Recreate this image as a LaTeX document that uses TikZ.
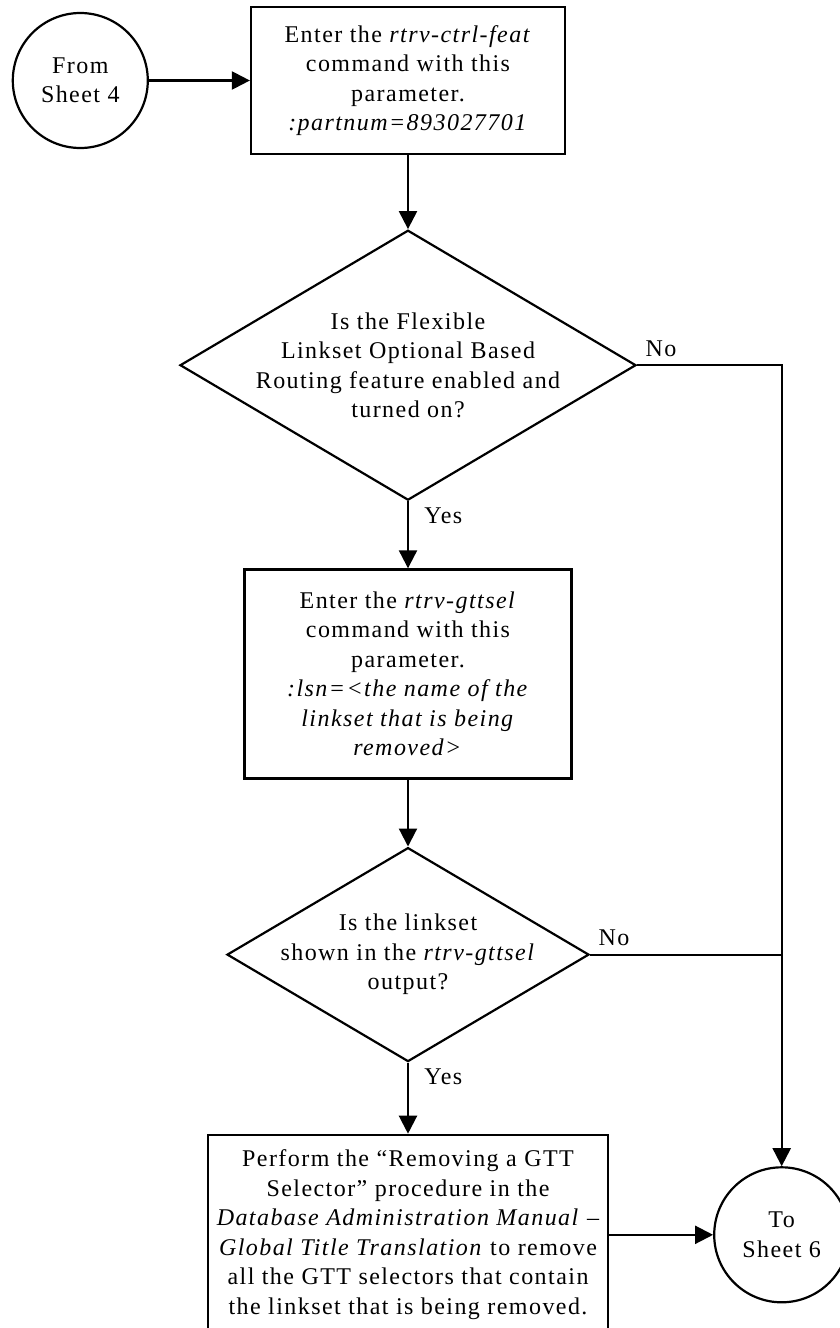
\documentclass[tikz,border=0pt]{standalone}
\usepackage{fontspec}
\setmainfont{Liberation Serif}[LetterSpace=6]
\usetikzlibrary{shapes.geometric, arrows.meta, positioning, calc}

\begin{document}
\begin{tikzpicture}[
    node distance=33.5pt and 50.5pt, % vertical and horizontal distances
    >={Triangle[length=9pt,width=9pt]},
    font=\fontsize{12pt}{14.75pt}\selectfont,
    block/.style={rectangle, draw, line width=1.1pt, align=center, inner sep=0pt},
    decision/.style={diamond, draw, line width=1.1pt, inner sep=0pt},
    connector/.style={circle, draw, line width=1.1pt, align=center, inner sep=0pt, minimum size=67.5pt},
    answer/.style={inner sep=0pt},
    line/.style={draw, ->, line width=1.1pt},
    plainline/.style={draw, line width=1.1pt}
]
    \useasboundingbox (0,0) rectangle (420pt,-664pt);

    % Define nodes in a vertical stack
    \node[block, minimum width=157pt, minimum height=73.5pt] (ctrlfeat) at (204pt,-40.25pt)
        {Enter the \textit{rtrv-ctrl-feat}\\command with this\\parameter.\\\textit{:partnum=893027701}};
    \node[connector, left=of ctrlfeat] (fromsheet) {From\\Sheet 4};

    \node[decision, below=37pt of ctrlfeat, minimum width=228pt, minimum height=135pt,
        label={[align=center]center:{Is the Flexible\\Linkset Optional Based\\Routing feature enabled and\\turned on?}}] (flexcheck) {};

    \node[block, below=of flexcheck, minimum width=163.5pt, minimum height=104.5pt] (gttsel)
        {Enter the \textit{rtrv-gttsel}\\command with this\\parameter.\\\textit{:lsn=<the name of the}\\\textit{linkset that is being}\\\textit{removed>}};

    \node[decision, below=of gttsel, minimum width=181pt, minimum height=107pt,
        label={[align=center]center:{Is the linkset\\shown in the \textit{rtrv-gttsel}\\output?}}] (lscheck) {};

    \node[block, below=35.5pt of lscheck, minimum width=200pt, minimum height=100pt] (removesel)
        {Perform the “Removing a GTT\\Selector” procedure in the\\\textit{Database Administration Manual} –\\\textit{Global Title Translation} to remove\\all the GTT selectors that contain\\the linkset that is being removed.};

    % Off-page connector to the right of the last step
    \node[connector, right=52pt of removesel] (tosheet) {To\\Sheet 6};

    % Answer labels
    \node[answer, anchor=south west] (flexno) at ([xshift=4pt,yshift=4pt]flexcheck.east) {No};
    \node[answer, anchor=north west] (flexyes) at ([xshift=8pt,yshift=-3pt]flexcheck.south) {Yes};
    \node[answer, anchor=south west] (lsno) at ([xshift=4pt,yshift=4pt]lscheck.east) {No};
    \node[answer, anchor=north west] (lsyes) at ([xshift=8pt,yshift=-3pt]lscheck.south) {Yes};

    % Draw arrows
    \path[line] (fromsheet) -- (ctrlfeat);
    \path[line] (ctrlfeat) -- (flexcheck);
    \path[line] (flexcheck) -- (gttsel);
    \path[line] (gttsel) -- (lscheck);
    \path[line] (lscheck) -- (removesel);
    \path[line] (removesel) -- (tosheet);

    % No branches join on the right
    \path[line] (flexcheck.east) -| (tosheet.north);
    \path[plainline] (lscheck.east) -- (lscheck.east -| tosheet.north);

\end{tikzpicture}
\end{document}
